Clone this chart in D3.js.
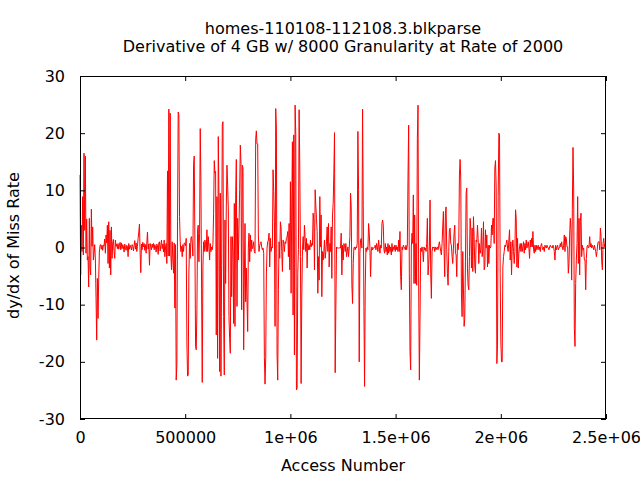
<!DOCTYPE html>
<html><head><meta charset="utf-8">
<script src="https://cdn.jsdelivr.net/npm/d3@7"></script>
<style>body{margin:0;background:#fff}svg{display:block}text{font-family:"DejaVu Sans",sans-serif;}</style>
</head><body><svg id="c" width="640" height="480"></svg>
<script>
const titleLines = ["homes-110108-112108.3.blkparse", "Derivative of 4 GB w/ 8000 Granularity at Rate of 2000"];
const xLabel = "Access Number";
const yLabel = "dy/dx of Miss Rate";
const xTicks = [0, 500000, 1000000, 1500000, 2000000, 2500000];
const xTickLabels = ["0", "500000", "1e+06", "1.5e+06", "2e+06", "2.5e+06"];
const yTicks = [-30, -20, -10, 0, 10, 20, 30];
const yTickLabels = ["-30", "-20", "-10", "0", "10", "20", "30"];
const SAMPLE_STEP = 3175; // access numbers between consecutive samples
// derivative values, in order of access number
const seg1 = [12.7,-4.8,3.9,-0.7,8.9,-1.3,16.5,3.0,16.0,-1.0,5.0,-2.2,-1.6,-6.9,5.1,-3.6,-4.8,6.7,0.2,3.6,-2.2,-1.0,0.5,-2.0,-8.9,-16.2,-5.4,-12.4,-5.4,-0.8,0.4,0.5,-0.3,0.4,-0.5,0.4,0.3,1.5,-1.0,2.2,0.8,3.9,-2.8,4.5,-3.6,3.0,-4.8,3.6,-1.9,0.8,1.4,-0.7,-1.9,1.3,0.2,0.6,-0.2,0.7,-0.3,0.3,0.9,-0.4,0.8,-0.2,0.5,0.1,-0.8,0.6,0.0,-0.5,0.4,0.1,-1.6,0.7,-0.3,0.4,0.1,-0.4,0.5,0.2,-0.6,0.4,1.2,-0.3,0.8,-0.7,0.2,1.6,2.7,4.1,-1.0,-4.4,0.6,-0.4,0.9,0.1,0.7,-0.5,0.5,-1.0,0.8,2.7,-0.3,0.6,-3.1,0.7,0.2,-0.4,0.6,0.0,0.7,-0.4,0.5,0.1,-0.8,0.6,0.3,-1.2,0.8,1.0,-0.6,0.4,1.3,-0.2,0.6,-0.8,1.3,-1.6,-0.1,0.7,-2.8,13.4];
const seg2 = [-1.5,24.2,-1.5,23.5,-1.3,-3.9,1.0,-2.0,-4.5,0.8,-10.6,0.5,-23.2,-20.6,4.5,23.7,23.2,5.4,1.0,-0.7,0.2,-1.6,0.5,-0.7,0.8,0.7,0.3,1.6,-16.5,-22.5,-22.3,-4.5,0.7,-1.9,1.6,1.9,0.7,-1.5,14.4,16.0,1.0,-17.3,-17.9,-10.9,3.1,3.9,-2.5,2.5,20.8,11.5,-7.1,-23.6,-3.4,1.0,-0.7,1.3,0.5,-0.7,3.1,-0.7,1.9,0.1,-2.2,0.7,-0.7,0.1,-0.4,0.5,6.0,15.2,13.0,13.3,-15.3,8.9,-19.4,19.4,8.9,-21.7,9.5,-22.5,-3.1,21.4,22.0,-12.1,-22.3,4.8,-6.3,7.1,14.4,10.9,6.9,-12.1,-15.9,-18.5,1.9,-8.6,1.9,-0.7,-13.3,7.7,-13.8,8.6,15.4,-10.3,5.1,-2.2,3.6,10.1,17.9,14.7,-10.9,14.4,13.9,-17.9,-5.7,4.2,-9.5,-3.6,-9.2,-14.7,-0.1,2.5,-2.5,2.2,-0.7,1.3,-0.2,0.1,1.0,-0.7];
const seg3 = [-1.0,19.0,20.4,18.1,18.1,2.2,-0.7,0.4,0.7,1.0,0.1,-0.4,-0.1,-1.0,-19.1,-23.9,-19.4,-4.8,-0.1,1.0,1.3,2.5,-3.4,1.6,-0.7,0.1,-0.1,13.6,9.8,4.5,-13.8,24.3,20.7,-18.8,-23.2,-7.4,1.0,-1.9,4.5,3.4,-0.7,-4.2,1.3,0.7,-0.7,1.0,0.7,1.6,1.9,2.8,-1.6,4.2,-3.9,11.5,-8.0,7.1,18.5,-11.8,19.7,-18.8,24.9,19.8,-24.9,-24.6,-4.5,-0.4,24.1,14.4,-1.6,-23.8,-8.5,-0.4,1.9,-0.4,3.9,1.6,-0.7,1.6,-3.6,0.7,-0.4,0.4,-0.4,1.3,0.1,0.7,0.4,6.0,4.8,-3.9,10.1,7.4,5.1,2.8,-8.0,-1.6,-5.7,8.9,0.1,5.7,-8.6,-0.7,-2.2,-0.7,1.3,-1.9,-0.7,1.0,3.6,-0.7,4.2,-3.4,0.7,-0.7,3.6,-5.4,5.7,7.7,13.0,20.1,-21.9,-10.6,0.1,-0.1,-0.1,-0.1,-0.1,0.0,-0.1,2.5];
const seg4 = [-4.8,0.4,-2.2,0.7,0.4,-0.7,0.7,-1.6,-0.7,0.1,-1.6,-0.1,1.9,9.5,7.1,-6.6,-9.8,-2.8,-0.1,0.1,-0.4,0.1,-0.1,0.7,20.3,10.1,-20.0,-1.0,1.3,1.6,-0.1,24.2,7.4,-10.3,-24.3,-6.9,-0.1,-0.7,0.1,-0.4,4.2,2.5,-0.1,-5.1,-0.7,0.1,-0.4,-0.1,-0.1,0.1,0.4,-0.4,0.7,0.1,-0.7,1.3,0.1,-1.0,0.4,-0.1,4.2,4.8,3.9,-0.4,-1.0,0.7,-0.7,0.1,-1.3,0.7,-1.0,0.4,-0.7,0.1,-1.3,0.7,-0.7,0.1,-0.4,0.4,-0.7,0.4,-0.4,0.1,-0.7,1.3,-0.7,2.8,-5.1,-7.4,0.1,-0.4,0.4,0.1,-0.1,-0.4,0.4,-0.4,0.4,12.1,21.4,-4.5,-18.2,-21.4,0.1,2.5,0.7,9.2,-6.3,5.7,-6.3,0.7,-6.6,19.1,24.9,-6.9,-23.2,-12.4,-0.1,-0.7,0.1,-0.4,-2.5,0.1,-0.4,-0.1,-0.7,0.7,5.1,-4.8];
const seg5 = [-3.0,0.1,8.3,-4.5,-8.9,-0.7,0.1,-0.1,0.1,-0.7,0.1,-0.4,-0.1,0.1,-0.4,0.4,1.0,0.1,-0.7,-1.3,0.7,3.6,6.3,-0.4,-5.1,6.0,7.1,-0.4,-4.5,-6.6,-0.7,3.1,3.4,0.7,0.4,-1.6,-2.8,-0.1,2.5,3.9,-1.0,-1.3,-5.1,0.7,-0.4,1.0,12.7,15.4,11.8,-8.3,-12.1,-0.7,-7.1,-13.8,-12.4,-2.5,9.5,10.4,-3.6,-6.6,-7.4,-1.6,5.1,3.1,-3.6,3.4,-4.2,5.4,1.9,-3.4,-4.5,1.3,1.0,3.9,1.6,-2.8,0.7,-1.0,-0.4,3.4,-1.6,-0.4,4.5,-3.9,-3.4,3.1,-0.1,2.2,-3.4,0.4,-2.8,0.4,-0.1,0.1,3.9,2.2,5.1,5.1,0.7,13.9,15.2,10.6,-20.3,-17.1,8.9,20.0,19.7,-4.5,-16.5,-20.0,-20.0,-3.4,-1.6,-0.7,0.4,0.1,0.7,1.3,-0.1,-0.7,1.3,3.1,-2.2,1.0,-4.8,-0.1,1.3,-0.7,-2.8,-0.7];
const seg6 = [6.6,5.1,-3.4,1.6,-3.6,-1.0,0.1,0.7,-0.7,0.7,-0.7,0.1,1.0,-1.0,0.7,-0.4,1.3,-0.1,0.4,1.0,-0.1,-1.9,1.3,0.1,1.6,0.1,2.8,-0.4,-1.0,0.4,-0.7,0.4,-0.4,0.1,0.4,-0.4,0.1,-0.7,0.4,0.7,-0.1,-0.4,0.1,-0.7,0.4,0.1,-0.1,0.4,0.1,-0.1,-0.4,0.1,0.4,0.1,0.1,-0.1,0.4,0.1,-0.7,-2.2,0.4,-0.4,0.1,0.4,-0.4,-0.1,0.1,0.7,0.1,1.0,0.1,-0.4,0.4,2.2,-0.7,1.9,1.6,0.1,0.1,-4.5,-2.8,2.2,5.1,3.1,-5.7,6.6,17.5,10.4,-14.1,-17.3,-6.3,-2.2,0.7,8.9,-2.8,5.1,-4.8,4.5,6.0,-1.6,0.4,-0.4,-0.1,-2.2,-2.2,-7.4,-1.9,0.1,0.4,-0.1,0.1,1.9,0.1,0.7,-0.1,0.4,0.1,-0.4,0.4,-0.1,-0.7,-1.6,-0.7,0.7,1.0,1.0,-0.4,3.4,1.9,-2.5,-3.9,0.7,1.6,0.1,0.7];

const values = [].concat(seg1, seg2, seg3, seg4, seg5, seg6);
const data = values.map((v, i) => ({x: i * SAMPLE_STEP, y: v}));

const svg = d3.select("#c");
const L = 80, R = 606, T = 76, B = 419;
const x = d3.scaleLinear().domain([0, 2500000]).range([L, R]);
const y = d3.scaleLinear().domain([-30, 30]).range([B, T]);
const FS = 16;

// line
svg.append("path").datum(data)
  .attr("fill", "none").attr("stroke", "#ff0000").attr("stroke-width", 1)
  .attr("d", d3.line().x(d => x(d.x)).y(d => y(d.y)));

function styleAxis(g, hideText) {
  g.select(".domain").remove();
  g.selectAll(".tick line").attr("stroke", "#000");
  g.selectAll(".tick text").attr("fill", "#000").style("font-size", FS + "px").style("font-family", '"DejaVu Sans",sans-serif');
  if (hideText) g.selectAll(".tick text").remove();
}
svg.append("g").attr("transform", `translate(0,${B})`)
  .call(d3.axisBottom(x).tickValues(xTicks).tickFormat((d, i) => xTickLabels[i]).tickSize(-5).tickPadding(13))
  .call(g => styleAxis(g, false));
svg.append("g").attr("transform", `translate(0,${T})`)
  .call(d3.axisTop(x).tickValues(xTicks).tickSize(-5))
  .call(g => styleAxis(g, true));
svg.append("g").attr("transform", `translate(${L},0)`)
  .call(d3.axisLeft(y).tickValues(yTicks).tickFormat((d, i) => yTickLabels[i]).tickSize(-5).tickPadding(15))
  .call(g => styleAxis(g, false));
svg.append("g").attr("transform", `translate(${R},0)`)
  .call(d3.axisRight(y).tickValues(yTicks).tickSize(-5))
  .call(g => styleAxis(g, true));

svg.append("rect").attr("x", L + 0.5).attr("y", T + 0.5).attr("width", R - L - 1).attr("height", B - T - 1)
  .attr("fill", "none").attr("stroke", "#000").attr("stroke-width", 1);

// titles
svg.selectAll(".title").data(titleLines).enter().append("text")
  .attr("x", (L + R) / 2).attr("y", (d, i) => 34 + i * 18)
  .attr("text-anchor", "middle").style("font-size", FS + "px").text(d => d);
svg.append("text").attr("x", (L + R) / 2).attr("y", 471).attr("text-anchor", "middle")
  .style("font-size", FS + "px").text(xLabel);
svg.append("text").attr("transform", `translate(19,${(T + B) / 2 - 2}) rotate(-90)`)
  .attr("text-anchor", "middle").style("font-size", FS + "px").text(yLabel);
</script></body></html>
